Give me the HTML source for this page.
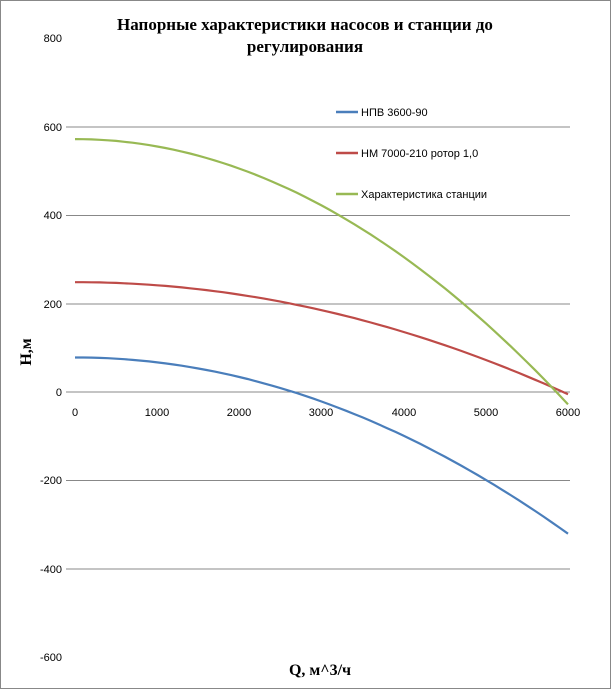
<!DOCTYPE html>
<html><head><meta charset="utf-8"><style>
html,body{margin:0;padding:0;background:#fff}
svg{display:block}
text{font-family:"Liberation Sans","DejaVu Sans",sans-serif}
</style></head><body>
<svg id="s" width="611" height="689" viewBox="0 0 611 689" xmlns="http://www.w3.org/2000/svg">
<rect x="0.5" y="0.5" width="610" height="688" fill="#fff" stroke="#888"/>
<text x="305" y="30" text-anchor="middle" font-family="Liberation Serif,serif" font-weight="bold" font-size="17" style="font-family:'Liberation Serif',serif">Напорные характеристики насосов и станции до</text>
<text x="305" y="52" text-anchor="middle" font-weight="bold" font-size="17" style="font-family:'Liberation Serif',serif">регулирования</text>
<g stroke="#888" stroke-width="1">
<line x1="66" y1="127" x2="570" y2="127"/>
<line x1="66" y1="215.5" x2="570" y2="215.5"/>
<line x1="66" y1="304" x2="570" y2="304"/>
<line x1="66" y1="392" x2="570" y2="392"/>
<line x1="66" y1="480.5" x2="570" y2="480.5"/>
<line x1="66" y1="569" x2="570" y2="569"/>
</g>
<g font-size="11" fill="#000" text-anchor="end">
<text x="62" y="42">800</text><text x="62" y="131">600</text><text x="62" y="219">400</text>
<text x="62" y="308">200</text><text x="62" y="396">0</text><text x="62" y="484">-200</text>
<text x="62" y="573">-400</text><text x="62" y="661">-600</text>
</g>
<g font-size="11" text-anchor="middle">
<text x="75" y="416">0</text><text x="157" y="416">1000</text><text x="239" y="416">2000</text>
<text x="321" y="416">3000</text><text x="404" y="416">4000</text><text x="486" y="416">5000</text><text x="568" y="416">6000</text>
</g>
<text x="320" y="675" text-anchor="middle" font-weight="bold" font-size="16" style="font-family:'Liberation Serif',serif">Q, м^3/ч</text>
<text transform="translate(31,352) rotate(-90)" text-anchor="middle" font-weight="bold" font-size="16" style="font-family:'Liberation Serif',serif">H,м</text>
<path id="b" fill="none" stroke="#4a7ebb" stroke-width="2.2"/>
<path id="r" fill="none" stroke="#be4b48" stroke-width="2.2"/>
<path id="g" fill="none" stroke="#98b954" stroke-width="2.2"/>
<g font-size="11">
<line x1="336" y1="112" x2="358" y2="112" stroke="#4a7ebb" stroke-width="2.5"/><text x="361" y="116">НПВ 3600-90</text>
<line x1="336" y1="153" x2="358" y2="153" stroke="#be4b48" stroke-width="2.5"/><text x="361" y="157">НМ 7000-210 ротор 1,0</text>
<line x1="336" y1="194" x2="358" y2="194" stroke="#98b954" stroke-width="2.5"/><text x="361" y="198">Характеристика станции</text>
</g>
</svg>
<script>
function mk(h0,h6){var a=(h0-h6)/36e6,d="";for(var q=0;q<=6000;q+=100){var h=h0-a*q*q;var x=75+q*0.08217,y=392-h*0.4429;d+=(q?"L":"M")+x.toFixed(1)+" "+y.toFixed(1);}return d;}
document.getElementById("b").setAttribute("d",mk(78,-320));
document.getElementById("r").setAttribute("d",mk(248,-5));
document.getElementById("g").setAttribute("d",mk(571,-28));
</script>
</body></html>
